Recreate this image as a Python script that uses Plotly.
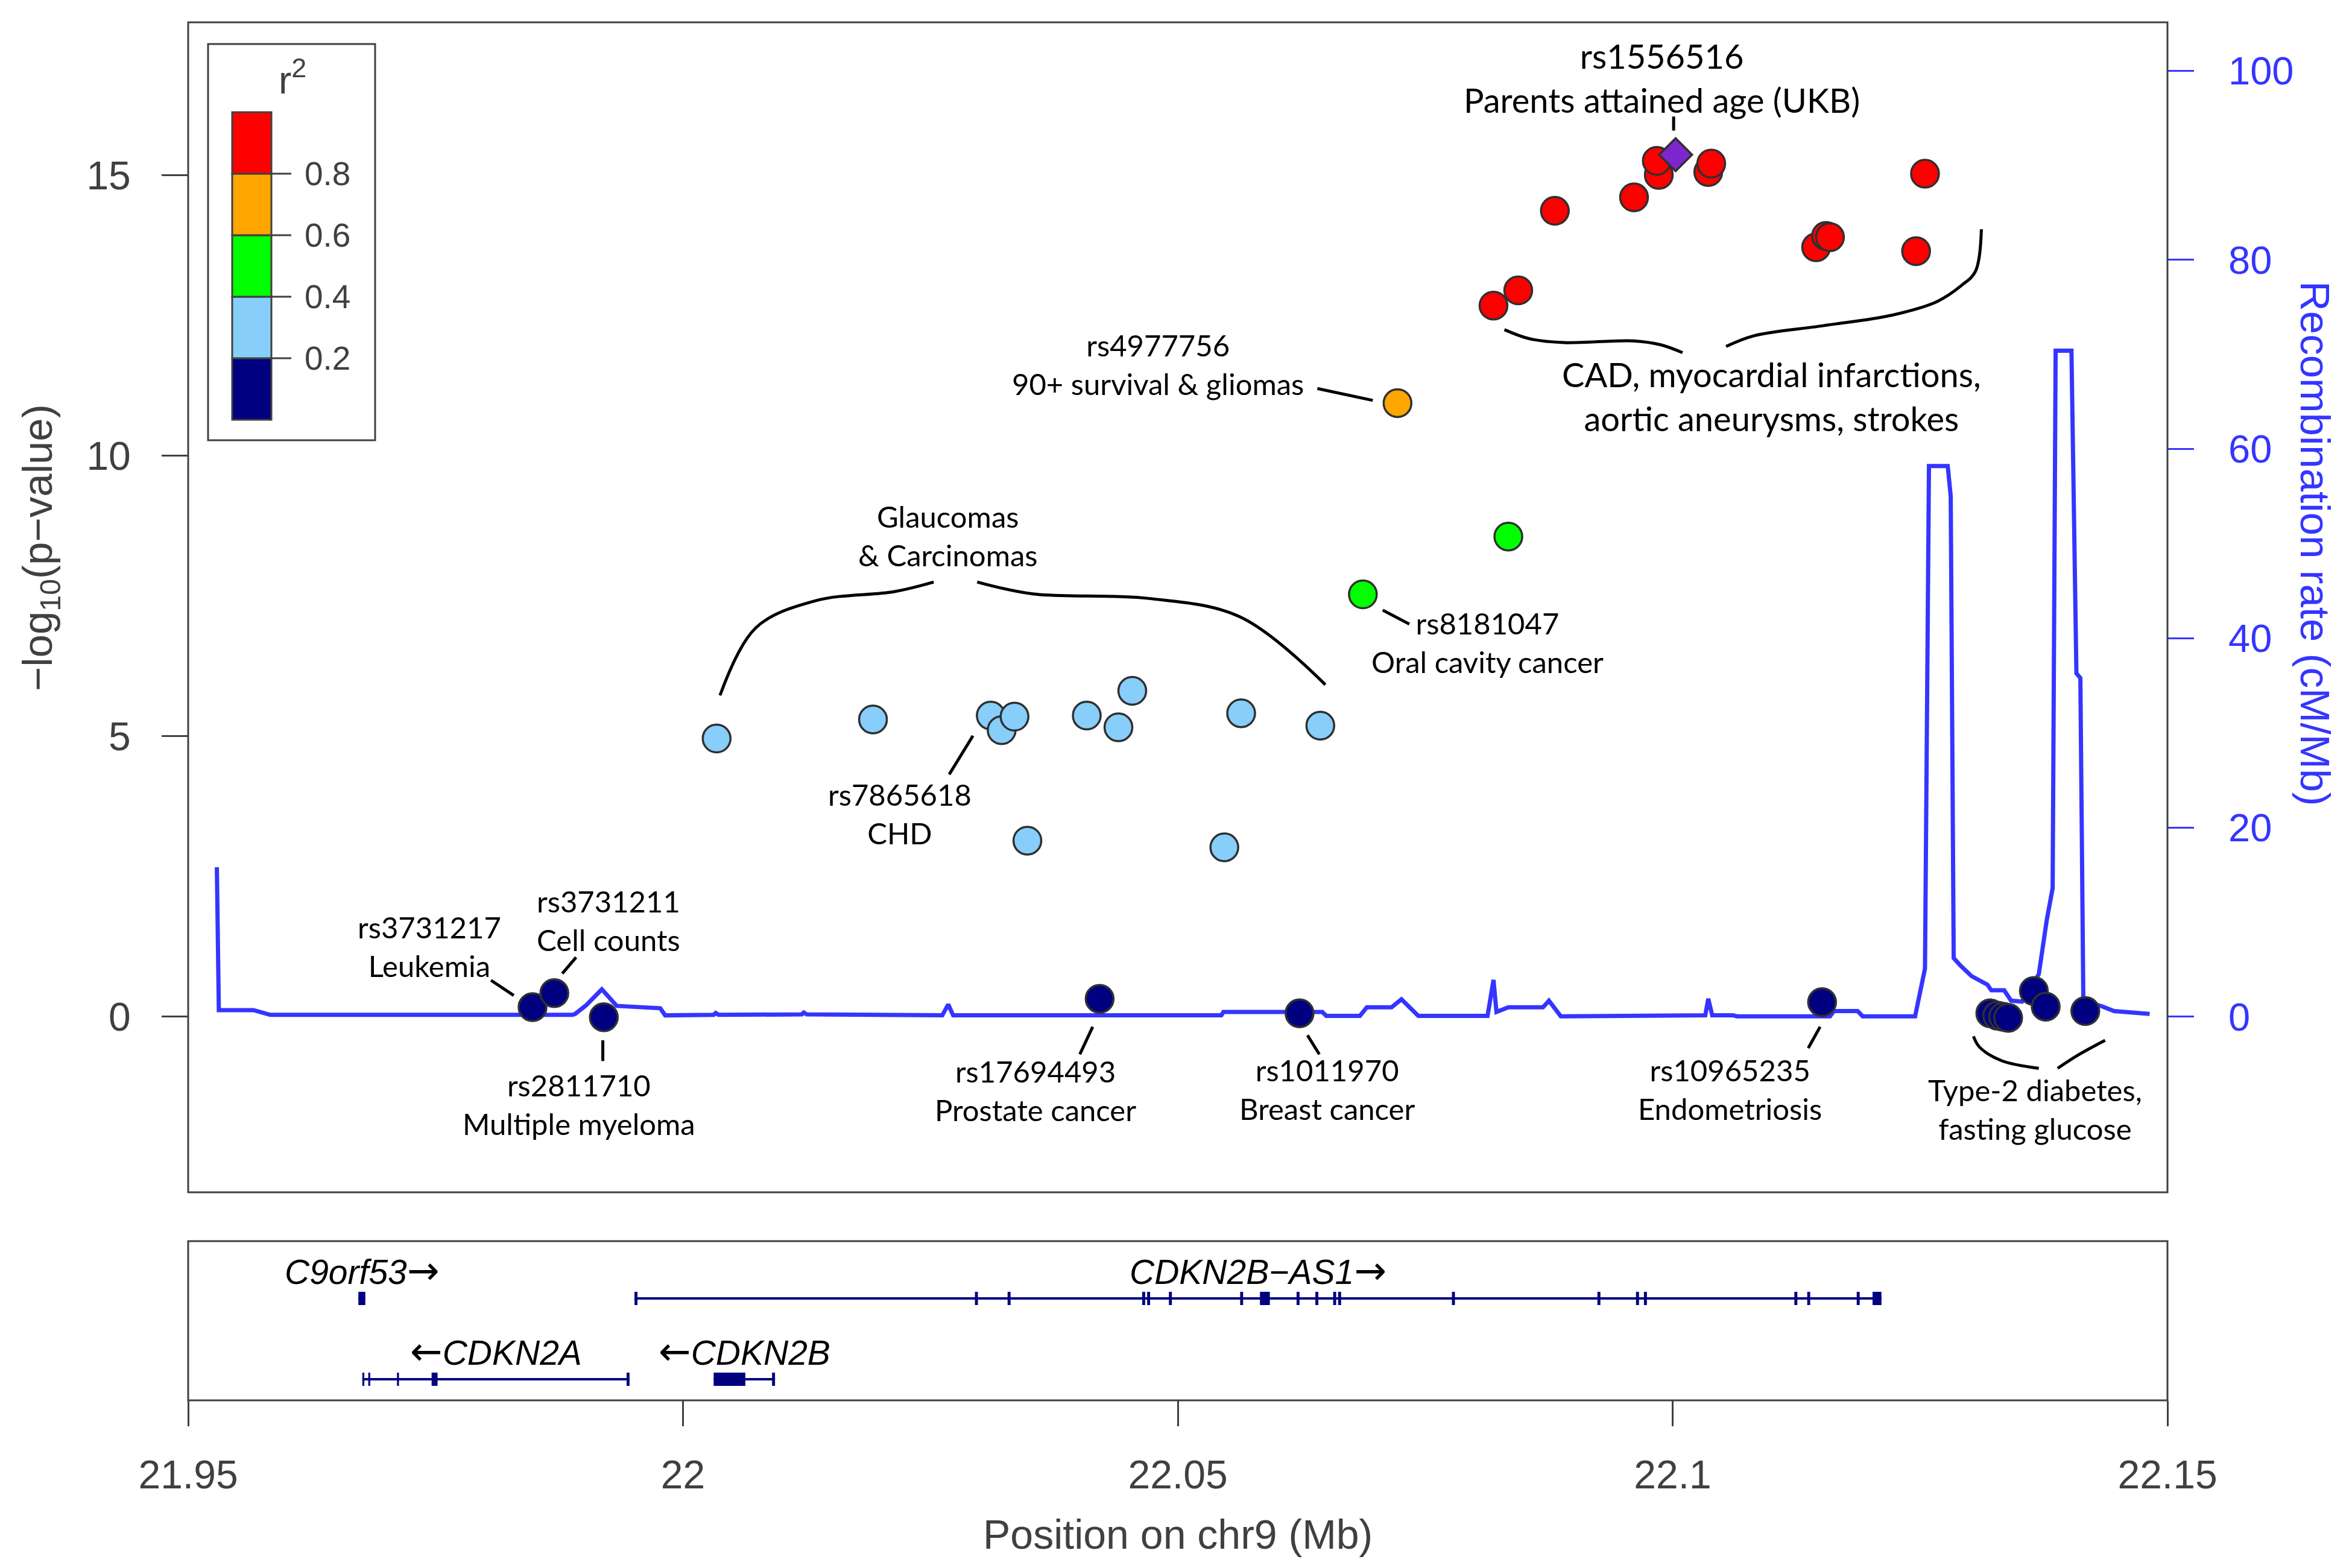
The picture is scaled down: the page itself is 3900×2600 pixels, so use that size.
import plotly.graph_objects as go

W, H = 3900, 2600

# ---------------- association results (chr9 position in Mb, -log10 p, LD r2 estimate)
snp_pos = [21.9848, 21.9870, 21.9920, 22.0421, 22.0623, 22.1151, 22.1321, 22.1328, 22.1334, 22.1339,
           22.1365, 22.1377, 22.1417,
           22.0034, 22.0192, 22.0311, 22.0322, 22.0335, 22.0348, 22.0408, 22.0440, 22.0454, 22.0547,
           22.0564, 22.0644,
           22.0687, 22.0834,
           22.0722,
           22.0819, 22.0844, 22.0881, 22.0961, 22.0986, 22.0984, 22.1036, 22.1039, 22.1145, 22.1155,
           22.1159, 22.1246, 22.1255]
snp_logp = [0.17, 0.42, -0.01, 0.32, 0.06, 0.26, 0.06, 0.02, 0.00, -0.02,
            0.46, 0.18, 0.10,
            4.96, 5.30, 5.37, 5.11, 5.35, 3.14, 5.37, 5.16, 5.81, 3.02,
            5.41, 5.19,
            7.53, 8.56,
            10.94,
            12.68, 12.95, 14.37, 14.61, 15.01, 15.26, 15.06, 15.21, 13.72, 13.92,
            13.90, 13.65, 15.03]
snp_r2 = [0.1] * 13 + [0.3] * 12 + [0.5] * 2 + [0.7] + [0.9] * 13

lead_pos = [22.1003]
lead_logp = [15.37]

# ---------------- recombination rate (cM/Mb)
recomb_pos = [21.9529, 21.9531, 21.9566, 21.9583, 21.9888, 21.9891, 21.9902, 21.9918, 21.9933, 21.9977,
              21.9982, 22.0031, 22.0033, 22.0036, 22.0120, 22.0122, 22.0125, 22.0262, 22.0268, 22.0273,
              22.0443, 22.0544, 22.0546, 22.0646, 22.0650, 22.0684, 22.0691, 22.0716, 22.0726, 22.0743,
              22.0813, 22.0819, 22.0822, 22.0834, 22.0869, 22.0875, 22.0887, 22.0967, 22.1033, 22.1036,
              22.1040, 22.1061, 22.1065, 22.1159, 22.1163, 22.1187, 22.1192, 22.1245, 22.1255, 22.1259,
              22.1278, 22.1281, 22.1284, 22.1291, 22.1302, 22.1318, 22.1322, 22.1335, 22.1342, 22.1353,
              22.1370, 22.1378, 22.1384, 22.1387, 22.1403, 22.1408, 22.1412, 22.1415, 22.1434, 22.1446,
              22.1482]
recomb_rate = [15.8, 0.7, 0.7, 0.2, 0.2, 0.3, 1.2, 2.9, 1.15, 0.9,
               0.15, 0.2, 0.4, 0.2, 0.25, 0.45, 0.25, 0.15, 1.3, 0.15,
               0.15, 0.15, 0.5, 0.5, 0.1, 0.1, 1.0, 1.0, 1.85, 0.1,
               0.1, 3.9, 0.5, 1.0, 1.0, 1.7, 0.05, 0.15, 0.15, 1.9,
               0.15, 0.15, 0.05, 0.05, 0.6, 0.6, 0.05, 0.05, 5.1, 58.2,
               58.2, 55.0, 6.2, 5.4, 4.3, 3.4, 2.8, 2.8, 1.7, 1.6,
               4.5, 10.2, 13.6, 70.4, 70.4, 36.3, 35.8, 1.7, 1.1, 0.6,
               0.3]

# ---------------- genes
gene_names = ["C9orf53", "CDKN2B\u2212AS1", "CDKN2A", "CDKN2B"]
gene_strands = ["+", "+", "-", "-"]
gene_rows = [2, 2, 1, 1]
gene_starts = [21.9672, 21.9951, 21.9676, 22.0031]
gene_ends = [21.9679, 22.1211, 21.9946, 22.0093]
gene_exons = [
    [(21.9672, 21.9679)],
    [(21.9951, 21.9954), (22.0295, 22.0298), (22.0328, 22.0331), (22.0464, 22.0467), (22.0469, 22.0472),
     (22.0491, 22.0494), (22.0563, 22.0566), (22.0583, 22.0593), (22.0620, 22.0623), (22.0639, 22.0642),
     (22.0657, 22.0660), (22.0662, 22.0665), (22.0777, 22.0780), (22.0924, 22.0927), (22.0963, 22.0966),
     (22.0971, 22.0974), (22.1123, 22.1126), (22.1136, 22.1139), (22.1186, 22.1189), (22.1202, 22.1211)],
    [(21.9676, 21.9678), (21.9682, 21.9684), (21.9711, 21.9713), (21.9746, 21.9752), (21.9943, 21.9946)],
    [(22.0031, 22.0063), (22.0090, 22.0093)],
]

# ---------------- axes
x_ticks = [21.95, 22.0, 22.05, 22.1, 22.15]
x_tick_labels = ["21.95", "22", "22.05", "22.1", "22.15"]
p_ticks = [0, 5, 10, 15]
recomb_ticks = [0, 20, 40, 60, 80, 100]
p_range = [-3.13, 17.73]
recomb_range = [-18.55, 105.1]
x_range = [21.95, 22.15]

# ---------------- r2 legend
r2_breaks = [0.2, 0.4, 0.6, 0.8]
r2_colors = ["#000080", "#87CEFA", "#00FF00", "#FFA500", "#FF0000"]
lead_color = "#7D26CD"

# ---------------- text annotations (x in Mb, y in -log10 p)
SMALL, BIG = 49, 56
note_texts = ["rs1556516<br>Parents attained age (UKB)",
              "rs4977756<br>90+ survival &amp; gliomas",
              "Glaucomas<br>&amp; Carcinomas",
              "rs7865618<br>CHD",
              "rs8181047<br>Oral cavity cancer",
              "CAD, myocardial infarctions,<br>aortic aneurysms, strokes",
              "rs3731217<br>Leukemia",
              "rs3731211<br>Cell counts",
              "rs2811710<br>Multiple myeloma",
              "rs17694493<br>Prostate cancer",
              "rs1011970<br>Breast cancer",
              "rs10965235<br>Endometriosis",
              "Type-2 diabetes,<br>fasting glucose"]
note_x = [22.0989, 22.0480, 22.0268, 22.0219, 22.0813, 22.1100, 21.9744, 21.9925, 21.9895,
          22.0356, 22.0651, 22.1058, 22.1366]
note_y = [16.74, 11.63, 8.58, 3.62, 6.68, 11.06, 1.26, 1.72, -1.565, -1.31, -1.29, -1.29, -1.65]
note_size = [BIG, SMALL, SMALL, SMALL, SMALL, BIG, SMALL, SMALL, SMALL, SMALL, SMALL, SMALL, SMALL]

leader_lines = [(22.1001, 15.80, 22.1001, 16.05),
                (22.0641, 11.20, 22.0697, 10.99),
                (22.0293, 5.01, 22.0269, 4.32),
                (22.0707, 7.25, 22.0734, 7.00),
                (21.9806, 0.65, 21.9829, 0.38),
                (21.9892, 1.06, 21.9878, 0.77),
                (21.9919, -0.42, 21.9919, -0.79),
                (22.0414, -0.18, 22.0401, -0.67),
                (22.0631, -0.33, 22.0643, -0.67),
                (22.1149, -0.18, 22.1137, -0.56)]

braces = [
    [(22.00374, 5.73), (22.00739, 6.94), (22.01345, 7.42), (22.02136, 7.58), (22.02533, 7.75)],
    [(22.02973, 7.75), (22.03533, 7.54), (22.04696, 7.46), (22.05627, 7.13), (22.06491, 5.92)],
    [(22.0830, 12.25), (22.0855, 12.09), (22.0890, 12.02), (22.0960, 12.05), (22.0988, 11.98), (22.1010, 11.84)],
    [(22.1054, 11.95), (22.1082, 12.14), (22.1152, 12.32), (22.1222, 12.51), (22.1267, 12.75),
     (22.1292, 13.04), (22.1306, 13.29), (22.1312, 14.04)],
    [(22.1304, -0.35), (22.1310, -0.54), (22.1332, -0.78), (22.1370, -0.92)],
    [(22.1389, -0.92), (22.1409, -0.69), (22.1437, -0.42)],
]

# ---------------- layout geometry (pixels in the 3900x2600 page)
PLOT_L, PLOT_R = 312, 3594
MAIN_T, MAIN_B = 37, 1977
GENE_T, GENE_B = 2058, 2322


def pxx(X):
    return X / W


def pxy(Y):
    return 1 - Y / H


AXIS_FONT = "Liberation Sans, Arial, sans-serif"
NOTE_FONT = "Lato, Open Sans, sans-serif"
GREY = "#404040"
BLUE = "#3535FF"
ARROW_R = "<span style=\"font-family:'DejaVu Sans';font-size:64px\">\u2192</span>"
ARROW_L = "<span style=\"font-family:'DejaVu Sans';font-size:64px\">\u2190</span>"


def r2_color(v):
    idx = sum(1 for b in r2_breaks if v >= b)
    return r2_colors[idx]


fig = go.Figure()

# recombination line (primary y, drawn underneath)
fig.add_trace(go.Scatter(x=recomb_pos, y=recomb_rate, mode="lines",
                         line=dict(color=BLUE, width=7), xaxis="x", yaxis="y",
                         hoverinfo="skip"))

# braces
for br in braces:
    fig.add_trace(go.Scatter(x=[p[0] for p in br], y=[p[1] for p in br], mode="lines",
                             line=dict(color="black", width=5, shape="spline", smoothing=1.0),
                             xaxis="x", yaxis="y2", hoverinfo="skip"))

# SNPs
fig.add_trace(go.Scatter(x=snp_pos, y=snp_logp, mode="markers", xaxis="x", yaxis="y2",
                         marker=dict(size=46, color=[r2_color(v) for v in snp_r2],
                                     line=dict(color="#303030", width=3.5))))
fig.add_trace(go.Scatter(x=lead_pos, y=lead_logp, mode="markers", xaxis="x", yaxis="y2",
                         marker=dict(size=42, symbol="diamond", color=lead_color,
                                     line=dict(color="#303030", width=3.5))))

# gene introns
for name, st, en, row in zip(gene_names, gene_starts, gene_ends, gene_rows):
    fig.add_trace(go.Scatter(x=[st, en], y=[row, row], mode="lines",
                             line=dict(color="#000080", width=4), xaxis="x2", yaxis="y3",
                             hoverinfo="skip"))

shapes = []
annotations = []

# exons
for exons, row in zip(gene_exons, gene_rows):
    for a, b in exons:
        shapes.append(dict(type="rect", xref="x2", yref="y3", x0=a, x1=b, y0=row - 0.082, y1=row + 0.082,
                           fillcolor="#000080", line=dict(width=0), layer="above"))

# gene labels
for name, st, en, row, strand in zip(gene_names, gene_starts, gene_ends, gene_rows, gene_strands):
    txt = f"<i>{name}</i>{ARROW_R}" if strand == "+" else f"{ARROW_L}<i>{name}</i>"
    annotations.append(dict(x=(st + en) / 2, y=row + 0.343, xref="x2", yref="y3", text=txt,
                            showarrow=False, xanchor="center", yanchor="middle",
                            font=dict(family=AXIS_FONT, size=57, color="black")))

# panel boxes
for t, b in [(MAIN_T, MAIN_B), (GENE_T, GENE_B)]:
    shapes.append(dict(type="rect", xref="paper", yref="paper", x0=pxx(PLOT_L), x1=pxx(PLOT_R),
                       y0=pxy(b), y1=pxy(t), line=dict(color=GREY, width=3), fillcolor="rgba(0,0,0,0)"))

# leader lines
for x0, y0, x1, y1 in leader_lines:
    shapes.append(dict(type="line", xref="x", yref="y2", x0=x0, y0=y0, x1=x1, y1=y1,
                       line=dict(color="black", width=5)))

# text notes
for t, x, y, s in zip(note_texts, note_x, note_y, note_size):
    annotations.append(dict(x=x, y=y, xref="x", yref="y2", text=t, showarrow=False,
                            xanchor="center", yanchor="middle",
                            font=dict(family=NOTE_FONT, size=s, color="black")))

# r2 legend (box, colour blocks, tick marks, labels)
LEG_L, LEG_R, LEG_T, LEG_B = 345, 622, 73, 730
BAR_L, BAR_R, BAR_T, BAR_B = 385, 450, 186, 696
shapes.append(dict(type="rect", xref="paper", yref="paper", x0=pxx(LEG_L), x1=pxx(LEG_R),
                   y0=pxy(LEG_B), y1=pxy(LEG_T), line=dict(color=GREY, width=3),
                   fillcolor="white"))
nblk = len(r2_colors)
blk = (BAR_B - BAR_T) / nblk
for i, c in enumerate(r2_colors):
    yb = BAR_B - i * blk
    shapes.append(dict(type="rect", xref="paper", yref="paper", x0=pxx(BAR_L), x1=pxx(BAR_R),
                       y0=pxy(yb), y1=pxy(yb - blk), fillcolor=c, line=dict(color=GREY, width=3)))
for i, b in enumerate(r2_breaks):
    yy = BAR_B - (i + 1) * blk
    shapes.append(dict(type="line", xref="paper", yref="paper", x0=pxx(BAR_R), x1=pxx(483),
                       y0=pxy(yy), y1=pxy(yy), line=dict(color=GREY, width=3)))
    annotations.append(dict(x=pxx(503), y=pxy(yy), xref="paper", yref="paper", text=f"{b:.1f}",
                            showarrow=False, xanchor="left", yanchor="middle",
                            font=dict(family=AXIS_FONT, size=55, color=GREY)))
annotations.append(dict(x=pxx(485), y=pxy(128), xref="paper", yref="paper", text="r<sup>2</sup>",
                        showarrow=False, xanchor="center", yanchor="middle",
                        font=dict(family=AXIS_FONT, size=64, color=GREY)))

# axis titles
annotations.append(dict(x=pxx(67), y=pxy(908), xref="paper", yref="paper",
                        text="\u2212log<sub>10</sub>(p\u2212value)", textangle=-90, showarrow=False,
                        xanchor="center", yanchor="middle",
                        font=dict(family=AXIS_FONT, size=69, color=GREY)))
annotations.append(dict(x=pxx(3838), y=pxy(901), xref="paper", yref="paper",
                        text="Recombination rate (cM/Mb)", textangle=90, showarrow=False,
                        xanchor="center", yanchor="middle",
                        font=dict(family=AXIS_FONT, size=69, color=BLUE)))
annotations.append(dict(x=pxx((PLOT_L + PLOT_R) / 2), y=pxy(2544), xref="paper", yref="paper",
                        text="Position on chr9 (Mb)", showarrow=False,
                        xanchor="center", yanchor="middle",
                        font=dict(family=AXIS_FONT, size=68, color=GREY)))

fig.update_layout(
    width=W, height=H, margin=dict(l=0, r=0, t=0, b=0, autoexpand=False),
    paper_bgcolor="white", plot_bgcolor="white", showlegend=False,
    xaxis=dict(domain=[pxx(PLOT_L), pxx(PLOT_R)], range=x_range, anchor="y", automargin=False,
               showticklabels=False, ticks="", showgrid=False, zeroline=False, showline=False),
    yaxis=dict(domain=[pxy(MAIN_B), pxy(MAIN_T)], range=recomb_range, side="right", anchor="x",
               automargin=False,
               tickvals=recomb_ticks, ticks="outside", ticklen=43, tickwidth=3, tickcolor=BLUE,
               tickfont=dict(family=AXIS_FONT, size=65, color=BLUE), ticklabelstandoff=44,
               showgrid=False, zeroline=False, showline=False),
    yaxis2=dict(overlaying="y", range=p_range, side="left", anchor="x", automargin=False,
                tickvals=p_ticks, ticks="outside", ticklen=43, tickwidth=3, tickcolor=GREY,
                tickfont=dict(family=AXIS_FONT, size=66, color=GREY), ticklabelstandoff=38,
                showgrid=False, zeroline=False, showline=False),
    xaxis2=dict(domain=[pxx(PLOT_L), pxx(PLOT_R)], range=x_range, anchor="y3", automargin=False,
                tickvals=x_ticks, ticktext=x_tick_labels, ticks="outside", ticklen=42, tickwidth=3,
                tickcolor=GREY, tickfont=dict(family=AXIS_FONT, size=66, color=GREY),
                ticklabelstandoff=24, showgrid=False, zeroline=False, showline=False),
    yaxis3=dict(domain=[pxy(GENE_B), pxy(GENE_T)], range=[0.739, 2.709], anchor="x2",
                automargin=False,
                showticklabels=False, ticks="", showgrid=False, zeroline=False, showline=False),
    shapes=shapes, annotations=annotations,
)

fig.write_html("out.html", post_script="document.body.style.margin='0';",
               config={"displayModeBar": False})
